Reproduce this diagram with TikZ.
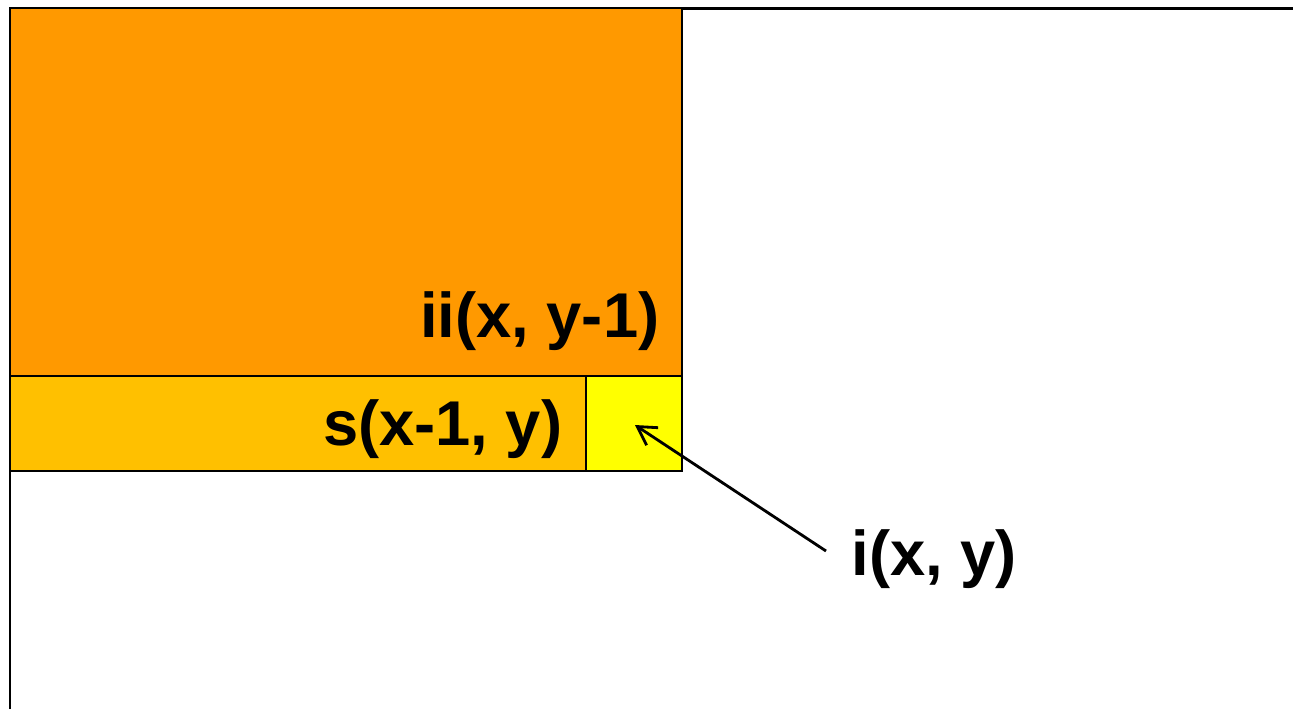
\documentclass[tikz,border=0pt]{standalone}
\usepackage{fontspec}
\setmainfont{Liberation Sans}
\definecolor{iiorange}{RGB}{255,153,0}
\definecolor{sorange}{RGB}{255,192,0}
\definecolor{iyellow}{RGB}{255,255,0}
\usetikzlibrary{positioning, arrows.meta}

\begin{document}
\begin{tikzpicture}[
  cell/.style={draw=black, line width=0.8pt, fill=#1, inner sep=0pt,
    outer sep=0pt},
  lbl/.style={font=\fontsize{18}{20}\selectfont\bfseries, inner sep=0pt},
  arw/.style={{Straight Barb[length=1.8mm, width=2.1mm]}-, line width=0.8pt},
]
\useasboundingbox (0,0) rectangle (12.93,-7.09);

% image frame
\draw[line width=0.85pt] (0.10,-7.09) |- (12.93,-0.08);

% summed areas
\node[cell=iiorange, minimum width=6.72cm, minimum height=3.68cm] (ii) at (3.46,-1.92) {};
\node[cell=sorange, minimum width=5.76cm, minimum height=0.95cm] (s) at (2.98,-4.235) {};
\node[cell=iyellow, minimum width=0.96cm, minimum height=0.95cm] (i) at (6.34,-4.235) {};

% labels
\node[lbl, anchor=base east] (iilbl) at (6.60,-3.37) {ii(x, y-1)};
\node[lbl, anchor=base east] (slbl) at (5.63,-4.45) {s(x-1, y)};
\node[lbl, anchor=base west] (ilbl) at (8.51,-5.75) {i(x, y)};

% pointer
\coordinate (tip) at (6.35,-4.25);
\coordinate (tail) at (8.26,-5.51);
\draw[arw] (tip) -- (tail);
\end{tikzpicture}
\end{document}
